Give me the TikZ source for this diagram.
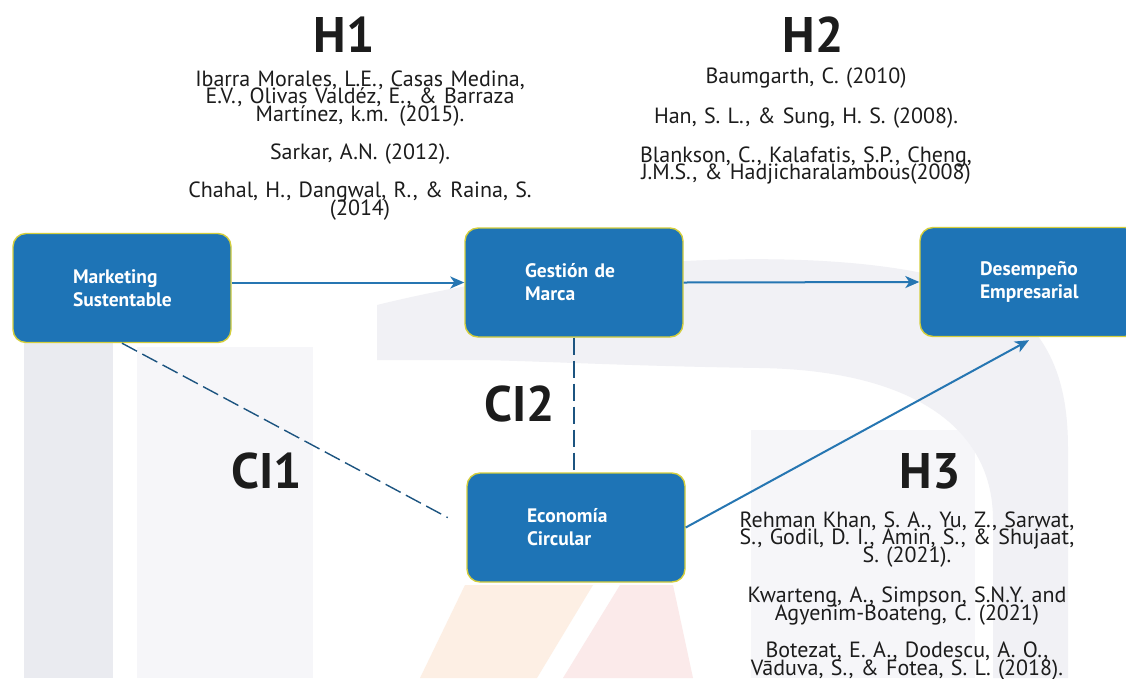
\documentclass[tikz,border=0pt]{standalone}
\usepackage{fontspec}
\setmainfont{PT Sans}[WordSpace=0.75]
\usetikzlibrary{arrows.meta,calc}

\definecolor{boxblue}{RGB}{30,116,182}
\definecolor{boxrim}{RGB}{212,206,60}
\definecolor{linkblue}{RGB}{38,118,178}
\definecolor{dashblue}{RGB}{28,84,128}
\definecolor{inkgray}{RGB}{28,28,28}
\definecolor{wmgray}{RGB}{234,235,240}
\definecolor{wmarch}{RGB}{241,241,245}
\definecolor{wmlight}{RGB}{246,246,249}
\definecolor{wmpeach}{RGB}{253,239,228}
\definecolor{wmpink}{RGB}{251,234,234}

\newcommand{\refsfont}{\fontsize{22}{17.8}\selectfont\lineskiplimit=-50pt\relax\lineskip=0pt\relax}

\tikzset{
  box/.style={draw=boxrim, line width=1.4pt, fill=boxblue, rounded corners=13pt,
    text width=110pt, inner xsep=54pt, inner ysep=0pt, minimum height=109pt,
    align=left, text=white, font=\bfseries\fontsize{19.5}{23}\selectfont},
  boxtext/.style={xshift=6pt},
  head/.style={inner sep=0pt, text=inkgray, font=\bfseries\fontsize{50}{50}\selectfont},
  refs/.style={inner sep=0pt, text=inkgray, align=center, text width=380pt,
    font=\refsfont},
  link/.style={draw=linkblue, line width=2pt, -{Stealth[length=14pt,width=12pt,inset=4pt]}},
  dashlink/.style={draw=dashblue, line width=1.4pt, dash pattern=on 17pt off 6pt},
}

\begin{document}
\begin{tikzpicture}[x=1pt,y=-1pt]
\useasboundingbox (0,0) rectangle (1126,678);
\fill[white] (0,0) rectangle (1126,678);

% faint background watermark
\fill[wmgray] (24,262) rectangle (113,678);
\fill[wmlight] (137,347) rectangle (313,678);
\fill[wmlight] (751,430) rectangle (975,678);
\fill[wmarch] (377,305) .. controls (600,250) and (900,240) .. (1000,300)
  .. controls (1060,340) and (1068,400) .. (1068,450) -- (1068,678) -- (993,678)
  -- (993,520) .. controls (993,420) and (900,370) .. (760,368)
  .. controls (620,366) and (520,360) .. (470,360) -- (377,360) -- cycle;
\fill[wmpeach] (465,585) -- (593,585) -- (537,678) -- (420,678) -- cycle;
\fill[wmpink] (620,585) -- (673,585) -- (693,678) -- (563,678) -- cycle;

% boxes (text block set a little right of centre)
\node[box] (ms) at (122,288) {\hspace*{6pt}Marketing\\\hspace*{6pt}Sustentable};
\node[box] (gm) at (574,282.5) {\hspace*{6pt}Gestión de\\\hspace*{6pt}Marca};
\node[box] (de) at (1029,282) {\hspace*{6pt}Desempeño\\\hspace*{6pt}Empresarial};
\node[box] (ec) at (576,527.5) {\hspace*{6pt}Economía\\\hspace*{6pt}Circular};

% headings
\node[head, anchor=base] (h1) at (344,52) {H1};
\node[head, anchor=base] (h2) at (813,52) {H2};
\node[head, anchor=base] (h3) at (930,488) {H3};
\node[head, anchor=base] (ci1) at (267,488) {CI1};
\node[head, anchor=base] (ci2) at (520,421) {CI2};

% references
\node[refs, anchor=base] (r1) at (360,86) {Ibarra Morales, L.E., Casas Medina,\\
  E.V., Olivas Valdéz, E., \& Barraza\\ Martínez, k.m. (2015).\\[20pt]
  Sarkar, A.N. (2012).\\[20pt]
  Chahal, H., Dangwal, R., \& Raina, S.\\ (2014)};
\node[refs, anchor=base] (r2) at (806,83) {Baumgarth, C. (2010)\\[23pt]
  Han, S. L., \& Sung, H. S. (2008).\\[20.5pt]
  Blankson, C., Kalafatis, S.P., Cheng,\\ J.M.S., \& Hadjicharalambous(2008)};
\node[refs, anchor=base] (r3) at (907,527) {Rehman Khan, S. A., Yu, Z., Sarwat,\\
  S., Godil, D. I., Amin, S., \& Shujaat,\\ S. (2021).\\[22pt]
  Kwarteng, A., Simpson, S.N.Y. and\\ Agyenim-Boateng, C. (2021)\\[19.5pt]
  Botezat, E. A., Dodescu, A. O.,\\ Vāduva, S., \& Fotea, S. L. (2018).};

% connectors
\draw[link] (ms.east |- gm.west) -- (gm.west);
\draw[link] (gm.east) -- (de.west);
\draw[link] (ec.east) -- ([yshift=-3pt]de.south);
\draw[dashlink, shorten >=21pt] (ms.south) -- (ec.west);
\draw[dashlink] (gm.south) -- (gm.south |- ec.north);
\end{tikzpicture}
\end{document}
